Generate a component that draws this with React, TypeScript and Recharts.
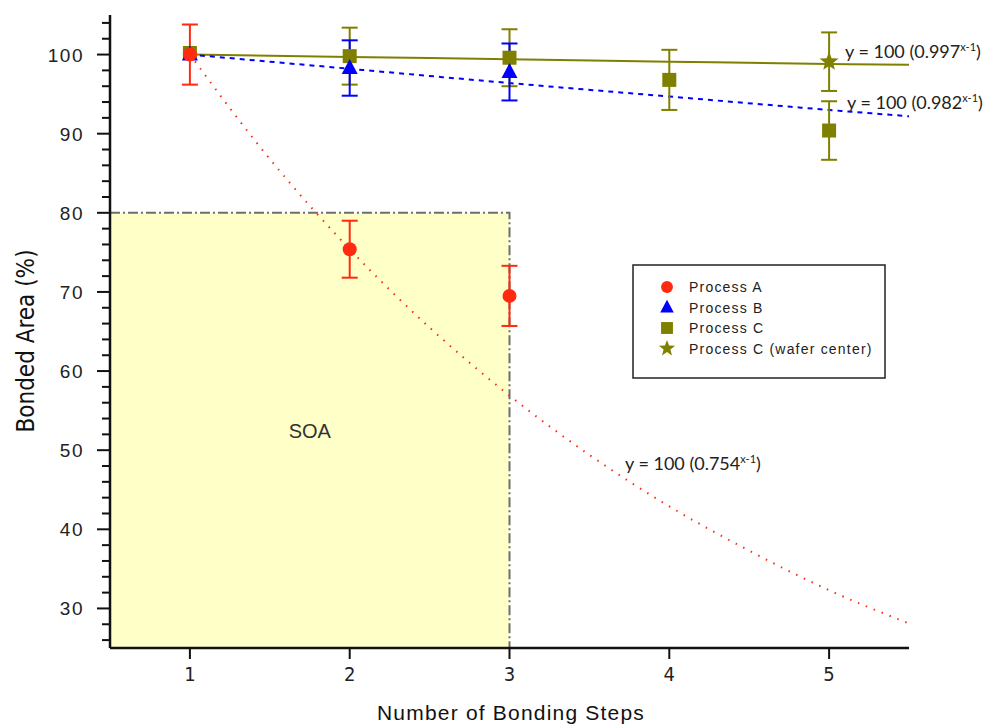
import React from 'react'
import {
  ComposedChart,
  Line,
  Scatter,
  ErrorBar,
  XAxis,
  YAxis,
  ReferenceArea,
} from 'recharts'

const stepsA = [1, 2, 3]
const processA = [100, 75.4, 69.5]
const processAErr = [3.8, 3.6, 3.8]

const stepsB = [1, 2, 3]
const processB = [100, 98.3, 97.8]
const processBErr = [0, 3.5, 3.6]

const stepsC = [1, 2, 3, 4, 5]
const processC = [100.2, 99.8, 99.6, 96.8, 90.4]
const processCErr = [0, 3.6, 3.6, 3.8, 3.7]

const stepsCenter = [5]
const processCenter = [99.1]
const processCenterErr = [3.7]

// fitted curves
const fitAX = [1, 1.5, 2, 2.5, 3, 3.5, 4, 4.5, 5, 5.5]
const fitAY = [100, 86.8, 75.4, 65.5, 56.9, 49.4, 42.9, 37.3, 32.3, 28.1]
const fitBX = [1, 2, 3, 4, 5, 5.5]
const fitBY = [100, 98.2, 96.4, 94.7, 93.0, 92.2]
const fitCX = [1, 2, 3, 4, 5, 5.5]
const fitCY = [100, 99.7, 99.4, 99.1, 98.8, 98.7]

const xTicks = [1, 2, 3, 4, 5]
const yTicks = [26, 28, 30, 32, 34, 36, 38, 40, 42, 44, 46, 48, 50, 52, 54, 56, 58, 60, 62, 64, 66, 68, 70, 72, 74, 76, 78, 80, 82, 84, 86, 88, 90, 92, 94, 96, 98, 100, 102, 104]

const RED = '#ff2a10'
const BLUE = '#0000ff'
const OLIVE = '#808000'
const NARROW = "'Liberation Sans Narrow', 'DejaVu Sans Condensed', sans-serif"
const ARIAL = "'Liberation Sans', Arial, sans-serif"

const pts = (xs: number[], ys: number[], errs?: number[]) =>
  xs.map((x, i) => ({ x, y: ys[i], err: errs ? errs[i] : 0 }))

const starPoints = (cx: number, cy: number, ro: number, ri: number) => {
  const p: string[] = []
  for (let i = 0; i < 10; i++) {
    const r = i % 2 === 0 ? ro : ri
    const a = -Math.PI / 2 + (i * Math.PI) / 5
    p.push(`${cx + r * Math.cos(a)},${cy + r * Math.sin(a)}`)
  }
  return p.join(' ')
}

const Circle = (props: any) => <circle cx={props.cx} cy={props.cy} r={7} fill={RED} />
const Tri = (props: any) => (
  <polygon
    points={`${props.cx},${props.cy - 9} ${props.cx - 8},${props.cy + 6} ${props.cx + 8},${props.cy + 6}`}
    fill={BLUE}
  />
)
const Square = (props: any) => (
  <rect x={props.cx - 7} y={props.cy - 7} width={14} height={14} fill={OLIVE} />
)
const Star = (props: any) => <polygon points={starPoints(props.cx, props.cy, 10, 4.2)} fill={OLIVE} />

const YTick = (props: any) => {
  const { x, y, payload } = props
  const major = payload.value % 10 === 0 && payload.value >= 30 && payload.value <= 100
  return (
    <g>
      <line x1={x - (major ? 13 : 8)} y1={y} x2={x} y2={y} stroke="#111" strokeWidth={2} />
      {major && (
        <text
          x={x - 26}
          y={y + 7}
          textAnchor="end"
          fontSize={19}
          letterSpacing={1.5}
          fontFamily={ARIAL}
          fill="#222"
        >
          {payload.value}
        </text>
      )}
    </g>
  )
}

const FitLabel = ({ x, y, base }: { x: number; y: number; base: string }) => (
  <text x={x} y={y} fontSize={18} fontFamily="Lato, 'Open Sans', sans-serif" fill="#222">
    y = 100 ({base}
    <tspan dy={-7} fontSize={11}>x-1</tspan>
    <tspan dy={7}>)</tspan>
  </text>
)

const legendItems = [
  { name: 'Process A', shape: Circle },
  { name: 'Process B', shape: Tri },
  { name: 'Process C', shape: Square },
  { name: 'Process C (wafer center)', shape: Star },
]

export default function App() {
  return (
    <div style={{ position: 'absolute', left: 0, top: 0, width: 996, height: 727, background: '#fff' }}>
      <ComposedChart width={996} height={727} margin={{ top: 15, right: 87, bottom: 39, left: 0 }}>
        <XAxis
          type="number"
          dataKey="x"
          domain={[0.5, 5.5]}
          ticks={xTicks}
          height={40}
          axisLine={{ stroke: '#111', strokeWidth: 2.5 }}
          tickLine={{ stroke: '#111', strokeWidth: 2 }}
          tickSize={11}
          tickMargin={8}
          tick={{ fontSize: 20, fill: '#222', fontFamily: NARROW }}
          allowDataOverflow
        />
        <YAxis
          type="number"
          dataKey="y"
          domain={[25, 105]}
          ticks={yTicks}
          interval={0}
          width={110}
          axisLine={{ stroke: '#111', strokeWidth: 2.5 }}
          tickLine={false}
          tickSize={0}
          tickMargin={0}
          tick={<YTick />}
          allowDataOverflow
        />
        <ReferenceArea
          x1={0.5}
          x2={3}
          y1={25}
          y2={80}
          fill="#ffffc8"
          fillOpacity={1}
          stroke="#6e6e6e"
          strokeWidth={2}
          strokeDasharray="10 3 2 3"
          label={{ value: 'SOA', position: 'center', fontSize: 20, fill: '#333', fontFamily: ARIAL }}
        />
        <Line
          data={pts(fitCX, fitCY)}
          dataKey="y"
          type="monotone"
          stroke={OLIVE}
          strokeWidth={2}
          dot={false}
          activeDot={false}
          isAnimationActive={false}
        />
        <Line
          data={pts(fitBX, fitBY)}
          dataKey="y"
          type="monotone"
          stroke={BLUE}
          strokeWidth={2}
          strokeDasharray="5 5"
          dot={false}
          activeDot={false}
          isAnimationActive={false}
        />
        <Line
          data={pts(fitAX, fitAY)}
          dataKey="y"
          type="monotone"
          stroke={RED}
          strokeWidth={2}
          strokeDasharray="1.5 7"
          dot={false}
          activeDot={false}
          isAnimationActive={false}
        />
        <Scatter data={pts(stepsC, processC, processCErr)} shape={Square} isAnimationActive={false}>
          <ErrorBar dataKey="err" direction="y" width={8} stroke={OLIVE} strokeWidth={2} />
        </Scatter>
        <Scatter data={pts(stepsCenter, processCenter, processCenterErr)} shape={Star} isAnimationActive={false}>
          <ErrorBar dataKey="err" direction="y" width={8} stroke={OLIVE} strokeWidth={2} />
        </Scatter>
        <Scatter data={pts(stepsB, processB, processBErr)} shape={Tri} isAnimationActive={false}>
          <ErrorBar dataKey="err" direction="y" width={8} stroke={BLUE} strokeWidth={2} />
        </Scatter>
        <Scatter data={pts(stepsA, processA, processAErr)} shape={Circle} isAnimationActive={false}>
          <ErrorBar dataKey="err" direction="y" width={8} stroke={RED} strokeWidth={2} />
        </Scatter>
      </ComposedChart>

      <svg width={996} height={727} style={{ position: 'absolute', left: 0, top: 0, pointerEvents: 'none' }}>
        <FitLabel x={845} y={58} base="0.997" />
        <FitLabel x={847} y={109} base="0.982" />
        <FitLabel x={625} y={470} base="0.754" />

        <text
          x={34}
          y={341}
          transform="rotate(-90 34 341)"
          textAnchor="middle"
          fontSize={24}
          fontFamily={NARROW}
          fill="#111"
        >
          Bonded Area (%)
        </text>
        <text x={511} y={720} textAnchor="middle" fontSize={21} letterSpacing={1.2} fontFamily={ARIAL} fill="#111">
          Number of Bonding Steps
        </text>

        <g transform="translate(633 265)">
          <rect x={0} y={0} width={252} height={113} fill="#fff" stroke="#222" strokeWidth={1.5} />
          {legendItems.map((it, i) => {
            const Shape = it.shape
            const cy = 22 + i * 20.5
            return (
              <g key={it.name}>
                <g transform={`translate(34 ${cy}) scale(0.85) translate(-34 ${-cy})`}>
                  <Shape cx={34} cy={cy} />
                </g>
                <text
                  x={56}
                  y={cy + 5}
                  fontSize={14}
                  letterSpacing={1.2}
                  fontFamily={ARIAL}
                  fill="#222"
                >
                  {it.name}
                </text>
              </g>
            )
          })}
        </g>
      </svg>
    </div>
  )
}
